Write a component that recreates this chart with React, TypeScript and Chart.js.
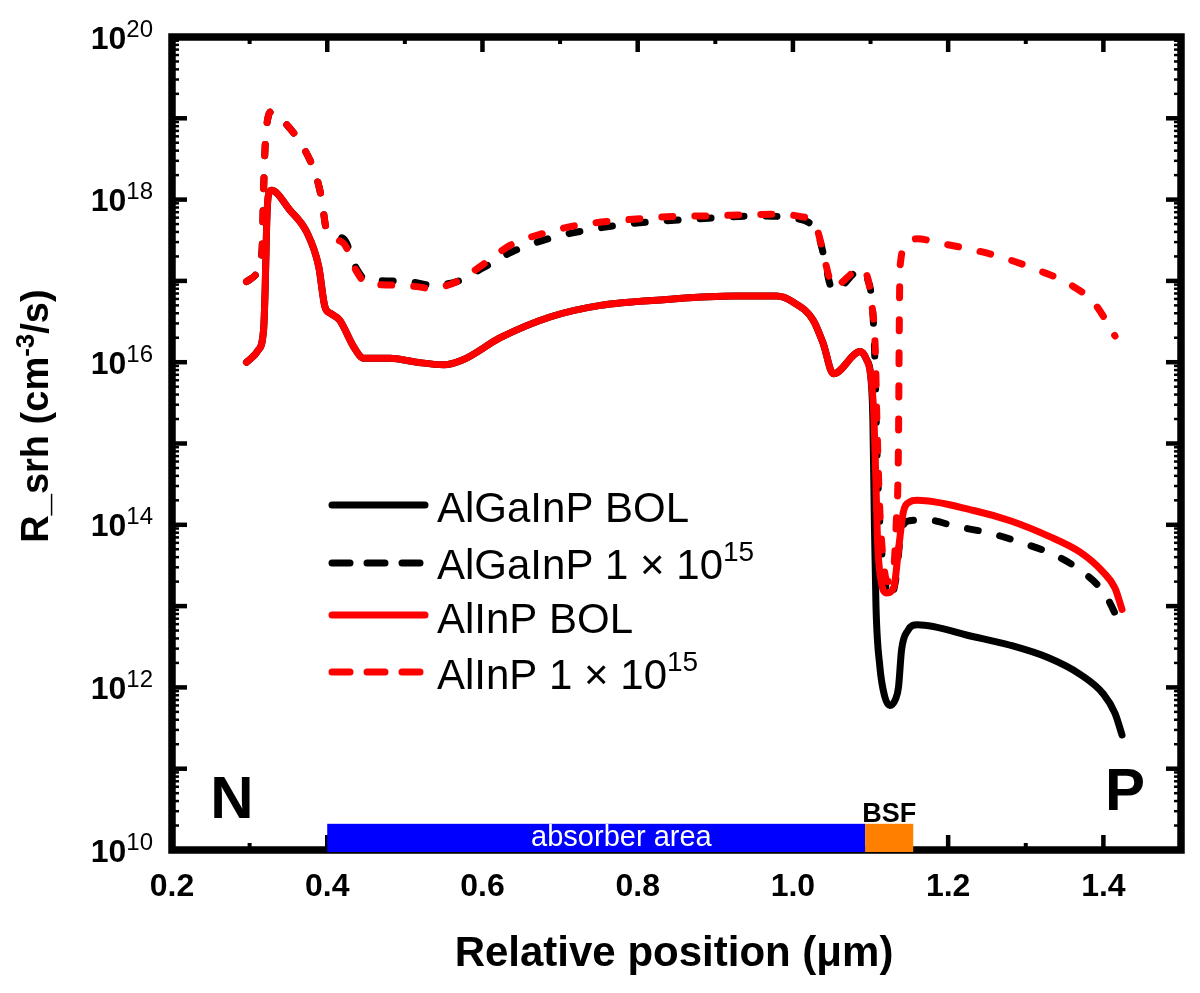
import { useEffect, useRef } from "react"
import { Chart, registerables } from "chart.js"

Chart.register(...registerables)

const FONT = '"Liberation Sans", Arial, Helvetica, sans-serif'

// AlGaInP BOL (black solid)
const algainpBolX = [0.296, 0.311, 0.318, 0.32, 0.322, 0.324, 0.328, 0.352, 0.374, 0.389, 0.397, 0.404, 0.416, 0.434, 0.447, 0.481, 0.515, 0.55, 0.575, 0.623, 0.687, 0.752, 0.837, 0.923, 0.979, 1.0, 1.026, 1.039, 1.052, 1.087, 1.095, 1.1, 1.103, 1.105, 1.107, 1.112, 1.118, 1.125, 1.132, 1.136, 1.14, 1.148, 1.16, 1.233, 1.28, 1.33, 1.37, 1.4, 1.415, 1.424]
const algainpBolY = [1.0e16, 1.4e16, 2.5e16, 7.8e16, 5.1e17, 1.1e18, 1.3e18, 7.4e17, 3.9e17, 1.5e17, 4.8e16, 4.0e16, 3.3e16, 1.55e16, 1.12e16, 1.12e16, 1.0e16, 9.3e15, 1.07e16, 2.0e16, 3.6e16, 5.0e16, 5.9e16, 6.5e16, 6.5e16, 5.5e16, 3.3e16, 1.7e16, 7.2e15, 1.35e16, 1.07e16, 7.1e15, 2.0e15, 1.0e14, 1.0e13, 1.8e12, 7.9e11, 6.0e11, 7.1e11, 1.0e12, 2.9e12, 5.0e12, 5.9e12, 4.2e12, 3.3e12, 2.3e12, 1.45e12, 8.3e11, 4.8e11, 2.6e11]

// AlGaInP 1e15 (black dashed)
const algainpIrrX = [0.296, 0.309, 0.316, 0.318, 0.32, 0.324, 0.328, 0.348, 0.371, 0.386, 0.393, 0.399, 0.421, 0.438, 0.451, 0.481, 0.515, 0.532, 0.567, 0.601, 0.639, 0.685, 0.728, 0.794, 0.872, 0.958, 1.0, 1.031, 1.04, 1.048, 1.053, 1.087, 1.095, 1.103, 1.106, 1.108, 1.111, 1.116, 1.125, 1.132, 1.14, 1.15, 1.172, 1.211, 1.254, 1.297, 1.336, 1.374, 1.402, 1.422]
const algainpIrrY = [9.8e16, 1.23e17, 2.4e17, 1.3e18, 4.5e18, 1.05e19, 1.2e19, 8.3e18, 4.1e18, 1.9e18, 1.0e18, 4.3e17, 3.3e17, 1.4e17, 1.02e17, 1.0e17, 9.5e16, 8.9e16, 9.8e16, 1.45e17, 2.3e17, 3.3e17, 4.1e17, 5.1e17, 5.75e17, 6.3e17, 5.9e17, 4.0e17, 2.0e17, 8.9e16, 7.6e16, 1.35e17, 1.12e17, 4.0e16, 7.9e15, 1.0e15, 1.6e14, 3.2e13, 1.26e13, 2.0e13, 8.7e13, 1.12e14, 1.15e14, 9.5e13, 7.9e13, 5.9e13, 4.3e13, 2.6e13, 1.4e13, 5.9e12]

// AlInP BOL (red solid)
const alinpBolX = [0.296, 0.311, 0.318, 0.32, 0.322, 0.324, 0.328, 0.352, 0.374, 0.389, 0.397, 0.404, 0.416, 0.434, 0.447, 0.481, 0.515, 0.55, 0.575, 0.623, 0.687, 0.752, 0.837, 0.923, 0.979, 1.0, 1.026, 1.039, 1.052, 1.087, 1.095, 1.1, 1.104, 1.107, 1.109, 1.113, 1.121, 1.13, 1.136, 1.142, 1.15, 1.16, 1.233, 1.28, 1.33, 1.37, 1.4, 1.415, 1.424]
const alinpBolY = [1.0e16, 1.4e16, 2.5e16, 7.8e16, 5.1e17, 1.1e18, 1.3e18, 7.4e17, 3.9e17, 1.5e17, 4.8e16, 4.0e16, 3.3e16, 1.55e16, 1.12e16, 1.12e16, 1.0e16, 9.3e15, 1.07e16, 2.0e16, 3.6e16, 5.0e16, 5.9e16, 6.5e16, 6.5e16, 5.5e16, 3.3e16, 1.7e16, 7.2e15, 1.35e16, 1.07e16, 7.1e15, 2.5e15, 3.2e14, 6.3e13, 2.2e13, 1.45e13, 1.7e13, 4.9e13, 1.4e14, 1.9e14, 2.0e14, 1.5e14, 1.12e14, 7.2e13, 4.6e13, 2.6e13, 1.66e13, 9.1e12]

// AlInP 1e15 (red dashed)
const alinpIrrX = [0.296, 0.309, 0.316, 0.318, 0.32, 0.324, 0.328, 0.348, 0.371, 0.386, 0.393, 0.399, 0.421, 0.438, 0.451, 0.481, 0.515, 0.532, 0.567, 0.601, 0.636, 0.681, 0.726, 0.773, 0.846, 0.889, 0.975, 1.005, 1.031, 1.039, 1.048, 1.052, 1.087, 1.095, 1.102, 1.106, 1.108, 1.111, 1.115, 1.122, 1.129, 1.133, 1.136, 1.137, 1.138, 1.147, 1.16, 1.19, 1.233, 1.273, 1.316, 1.355, 1.389, 1.415]
const alinpIrrY = [9.8e16, 1.23e17, 2.4e17, 1.3e18, 4.5e18, 1.05e19, 1.2e19, 8.3e18, 4.1e18, 1.9e18, 1.0e18, 4.3e17, 2.9e17, 1.3e17, 9.3e16, 8.9e16, 8.5e16, 8.1e16, 9.8e16, 1.6e17, 2.75e17, 3.9e17, 4.9e17, 5.5e17, 6.2e17, 6.3e17, 6.6e17, 6.3e17, 4.3e17, 2.2e17, 1.0e17, 8.5e16, 1.4e17, 1.2e17, 4.8e16, 1.55e16, 2.3e15, 2.5e14, 5.0e13, 2.0e13, 2.5e13, 1.0e14, 1.0e15, 2.5e16, 1.5e17, 2.9e17, 3.3e17, 2.9e17, 2.4e17, 1.9e17, 1.35e17, 9.3e16, 5.2e16, 2.1e16]

// legend
const legendText = ["AlGaInP BOL", "AlGaInP 1 × 10", "AlInP BOL", "AlInP 1 × 10"]
const legendSup = ["", "15", "", "15"]
const legendColors = ["#000000", "#000000", "#ff0000", "#ff0000"]
const legendDashed = [false, true, false, true]

// axes
const xMajorTicks = [0.2, 0.4, 0.6, 0.8, 1.0, 1.2, 1.4]
const xMinorTicks = [0.3, 0.5, 0.7, 0.9, 1.1, 1.3]
const yLabelExponents = [10, 12, 14, 16, 18, 20]
const yDecades = [10, 11, 12, 13, 14, 15, 16, 17, 18, 19, 20]

// layer regions along the bottom
const regionStart = [0.4, 1.093]
const regionEnd = [1.093, 1.155]
const regionTop = [2.1e10, 2.1e10]
const regionColors = ["#0000ff", "#ff8000"]
const absorberLabelX = 0.779

const toPoints = (xs: number[], ys: number[]) => xs.map((x, i) => ({ x, y: ys[i] }))

function drawSup(ctx, x, y, base, sup, baseFont, supFont, rise, align) {
  ctx.font = baseFont
  const wb = ctx.measureText(base).width
  ctx.font = supFont
  const ws = sup ? ctx.measureText(sup).width : 0
  let start = x
  if (align === "right") start = x - wb - ws
  if (align === "center") start = x - (wb + ws) / 2
  ctx.textAlign = "left"
  ctx.font = baseFont
  ctx.fillText(base, start, y)
  if (sup) {
    ctx.font = supFont
    ctx.fillText(sup, start + wb, y - rise)
  }
}

const decorPlugin = {
  id: "decor",
  afterDatasetsDraw(chart) {
    const { ctx, chartArea: a } = chart
    const xs = chart.scales.x
    const ys = chart.scales.y
    ctx.save()
    ctx.textBaseline = "alphabetic"

    // frame
    ctx.strokeStyle = "#000000"
    ctx.lineWidth = 7.5
    ctx.strokeRect(a.left, a.top, a.right - a.left, a.bottom - a.top)

    // x ticks (bottom and top, inward)
    ctx.lineCap = "butt"
    const tick = (x1, y1, x2, y2, w) => {
      ctx.lineWidth = w
      ctx.beginPath()
      ctx.moveTo(x1, y1)
      ctx.lineTo(x2, y2)
      ctx.stroke()
    }
    for (const v of xMajorTicks) {
      const px = xs.getPixelForValue(v)
      tick(px, a.bottom, px, a.bottom - 15, 4.5)
      tick(px, a.top, px, a.top + 15, 4.5)
    }
    for (const v of xMinorTicks) {
      const px = xs.getPixelForValue(v)
      tick(px, a.bottom, px, a.bottom - 7, 4)
      tick(px, a.top, px, a.top + 7, 4)
    }
    // y ticks (left and right, inward)
    for (const e of yDecades) {
      const py = ys.getPixelForValue(10 ** e)
      tick(a.left, py, a.left + 15, py, 4.5)
      tick(a.right, py, a.right - 15, py, 4.5)
      if (e < 20) {
        for (let k = 2; k <= 9; k++) {
          const pm = ys.getPixelForValue(k * 10 ** e)
          tick(a.left, pm, a.left + 7, pm, 2.5)
          tick(a.right, pm, a.right - 7, pm, 2.5)
        }
      }
    }

    // region bars, drawn over the bottom axis line
    for (let i = 0; i < regionStart.length; i++) {
      const l = xs.getPixelForValue(regionStart[i])
      const r = xs.getPixelForValue(regionEnd[i])
      const t = ys.getPixelForValue(regionTop[i])
      ctx.fillStyle = regionColors[i]
      ctx.fillRect(l, t, r - l, a.bottom + 2 - t)
    }
    ctx.fillStyle = "#ffffff"
    ctx.font = `29px ${FONT}`
    ctx.textAlign = "center"
    ctx.fillText("absorber area", xs.getPixelForValue(absorberLabelX), 846)
    const bsfMid = (xs.getPixelForValue(regionStart[1]) + xs.getPixelForValue(regionEnd[1])) / 2
    ctx.fillStyle = "#000000"
    ctx.font = `bold 27px ${FONT}`
    ctx.fillText("BSF", bsfMid, 822)

    // N / P labels
    ctx.font = `bold 60px ${FONT}`
    ctx.fillText("N", 232, 818)
    ctx.fillText("P", 1125, 810)

    // tick labels
    ctx.fillStyle = "#000000"
    ctx.font = `bold 32px ${FONT}`
    ctx.textAlign = "center"
    for (const v of xMajorTicks) {
      ctx.fillText(v.toFixed(1), xs.getPixelForValue(v), 896)
    }
    for (const e of yLabelExponents) {
      const py = ys.getPixelForValue(10 ** e)
      drawSup(ctx, 153, py + 11.5, "10", String(e), `bold 32px ${FONT}`, `24px ${FONT}`, 12, "right")
    }

    // axis titles
    ctx.textAlign = "center"
    ctx.font = `bold 42px ${FONT}`
    ctx.fillText("Relative position (\u03bcm)", 674, 966)

    ctx.save()
    ctx.translate(48, 416)
    ctx.rotate(-Math.PI / 2)
    const tf = `bold 38px ${FONT}`
    const sf = `bold 26px ${FONT}`
    ctx.font = tf
    const w1 = ctx.measureText("R_srh (cm").width
    const w3 = ctx.measureText("/s)").width
    ctx.font = sf
    const w2 = ctx.measureText("-3").width
    let sx = -(w1 + w2 + w3) / 2
    ctx.textAlign = "left"
    ctx.font = tf
    ctx.fillText("R_srh (cm", sx, 0)
    sx += w1
    ctx.font = sf
    ctx.fillText("-3", sx, -14)
    sx += w2
    ctx.font = tf
    ctx.fillText("/s)", sx, 0)
    ctx.restore()

    // legend
    const lineRows = [505, 563, 615, 672]
    const textRows = [522, 579, 633, 689]
    ctx.lineCap = "round"
    for (let i = 0; i < legendText.length; i++) {
      ctx.strokeStyle = legendColors[i]
      ctx.lineWidth = 7
      ctx.setLineDash(legendDashed[i] ? [18, 17] : [])
      ctx.beginPath()
      ctx.moveTo(332, lineRows[i])
      ctx.lineTo(425, lineRows[i])
      ctx.stroke()
      ctx.setLineDash([])
      ctx.fillStyle = "#000000"
      drawSup(ctx, 437, textRows[i], legendText[i], legendSup[i], `42px ${FONT}`, `28px ${FONT}`, 18, "left")
    }
    ctx.restore()
  },
}

const lineStyle = {
  borderWidth: 7,
  pointRadius: 0,
  fill: false,
  cubicInterpolationMode: "monotone",
  borderCapStyle: "round",
  borderJoinStyle: "round",
}

export default function App() {
  const canvasRef = useRef<HTMLCanvasElement>(null)

  useEffect(() => {
    document.body.style.margin = "0"
    if (!canvasRef.current) return
    const chart = new Chart(canvasRef.current, {
      type: "line",
      data: {
        datasets: [
          { ...lineStyle, label: "AlGaInP BOL", data: toPoints(algainpBolX, algainpBolY), borderColor: "#000000", order: 4 },
          { ...lineStyle, label: "AlGaInP 1 × 10¹⁵", data: toPoints(algainpIrrX, algainpIrrY), borderColor: "#000000", borderDash: [11, 22], order: 3 },
          { ...lineStyle, label: "AlInP BOL", data: toPoints(alinpBolX, alinpBolY), borderColor: "#ff0000", order: 1 },
          { ...lineStyle, label: "AlInP 1 × 10¹⁵", data: toPoints(alinpIrrX, alinpIrrY), borderColor: "#ff0000", borderDash: [11, 22], order: 2 },
        ],
      },
      options: {
        responsive: true,
        maintainAspectRatio: false,
        animation: false,
        layout: { padding: { left: 172, top: 37, right: 19, bottom: 143 } },
        plugins: { legend: { display: false }, tooltip: { enabled: false } },
        scales: {
          x: { type: "linear", min: 0.2, max: 1.5, display: false },
          y: { type: "logarithmic", min: 1e10, max: 1e20, display: false },
        },
      },
      plugins: [decorPlugin],
    })
    return () => chart.destroy()
  }, [])

  return (
    <div style={{ width: 1200, height: 993, position: "relative", background: "#ffffff" }}>
      <canvas ref={canvasRef} />
    </div>
  )
}
